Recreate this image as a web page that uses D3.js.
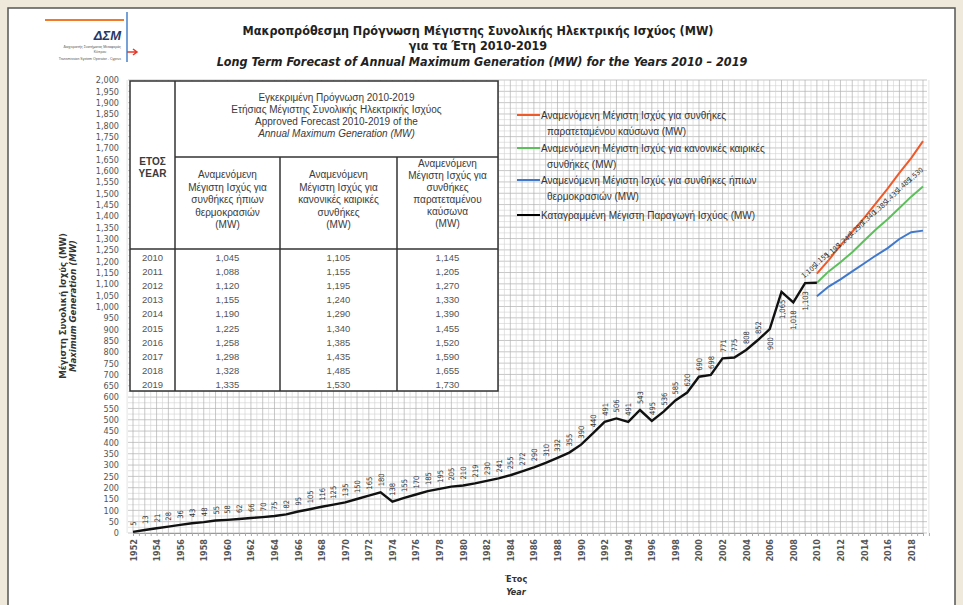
<!DOCTYPE html>
<html>
<head>
<meta charset="utf-8">
<script src="https://cdn.jsdelivr.net/npm/d3@7"></script>
<style>
  body { margin: 0; background: #efe9dc; }
  svg { display: block; }
</style>
</head>
<body>
<script>
// recorded annual maximum generation (MW), 1952 - 2009
const histStart = 1952;
const histValues = [5, 13, 21, 28, 36, 43, 48, 55, 58, 62,
  66, 70, 75, 82, 95, 105, 116, 125, 135, 150,
  165, 180, 138, 155, 170, 185, 195, 205, 210, 219,
  230, 241, 255, 272, 290, 310, 332, 355, 390, 440,
  491, 506, 491, 543, 495, 536, 585, 620, 690, 698,
  771, 775, 808, 852, 900, 1065, 1018, 1103];

// approved forecast 2010 - 2019
const forecastYears = [2010, 2011, 2012, 2013, 2014, 2015, 2016, 2017, 2018, 2019];
const mildValues = [1045, 1088, 1120, 1155, 1190, 1225, 1258, 1298, 1328, 1335];
const normalValues = [1105, 1155, 1195, 1240, 1290, 1340, 1385, 1435, 1485, 1530];
const heatValues = [1145, 1205, 1270, 1330, 1390, 1455, 1520, 1590, 1655, 1730];

const yTicks = d3.range(0, 2001, 50);
const xTickYears = d3.range(1952, 2019, 2);

const legendItems = [
  { color: "#ef5a2a", lines: ["Αναμενόμενη Μέγιστη Ισχύς για συνθήκες", "παρατεταμένου καύσωνα (MW)"] },
  { color: "#5cc05a", lines: ["Αναμενόμενη Μέγιστη Ισχύς για κανονικές καιρικές", "συνθήκες (MW)"] },
  { color: "#3f78cc", lines: ["Αναμενόμενη Μέγιστη Ισχύς για συνθήκες ήπιων", "θερμοκρασιών (MW)"] },
  { color: "#000000", lines: ["Καταγραμμένη Μέγιστη Παραγωγή Ισχύος (MW)"] }
];

const width = 963, height = 605;
const font = "'DejaVu Sans Condensed', 'Liberation Sans', sans-serif";
const bodyFont = "'Liberation Sans', Arial, sans-serif";
const fmt = d3.format(",");

const svg = d3.select("body").append("svg")
  .attr("width", width)
  .attr("height", height)
  .attr("font-family", bodyFont);

// page frame
svg.append("rect")
  .attr("x", 8).attr("y", 8)
  .attr("width", 947).attr("height", 610)
  .attr("fill", "#fff")
  .attr("stroke", "#555")
  .attr("stroke-width", 1.5);

const x = d3.scaleLinear().domain([1952, 2019]).range([133, 923]);
const y = d3.scaleLinear().domain([0, 2000]).range([533, 80]);

const plotLeft = 128, plotRight = 927;

// grid
const grid = svg.append("g");
grid.selectAll("line.hmin")
  .data(d3.range(25, 2000, 50))
  .join("line")
  .attr("x1", plotLeft).attr("x2", plotRight)
  .attr("y1", d => y(d)).attr("y2", d => y(d))
  .attr("stroke", "#d2d2d2").attr("stroke-width", 0.6);
grid.selectAll("line.hmaj")
  .data(yTicks)
  .join("line")
  .attr("x1", plotLeft).attr("x2", plotRight)
  .attr("y1", d => y(d)).attr("y2", d => y(d))
  .attr("stroke", "#b0b0b0").attr("stroke-width", 0.7);
grid.selectAll("line.vmin")
  .data(d3.range(1951.5, 2019.6, 1))
  .join("line")
  .attr("x1", d => x(d)).attr("x2", d => x(d))
  .attr("y1", y(2000)).attr("y2", y(0))
  .attr("stroke", "#d2d2d2").attr("stroke-width", 0.6);
grid.selectAll("line.vmaj")
  .data(d3.range(1952, 2020, 1))
  .join("line")
  .attr("x1", d => x(d)).attr("x2", d => x(d))
  .attr("y1", y(2000)).attr("y2", y(0))
  .attr("stroke", "#b0b0b0").attr("stroke-width", 0.7);

// y axis
const yAxis = d3.axisLeft(y).tickValues(yTicks).tickSize(0).tickPadding(9).tickFormat(fmt);
svg.append("g")
  .attr("transform", `translate(${plotLeft},0)`)
  .call(yAxis)
  .call(g => g.select(".domain").remove())
  .call(g => g.selectAll("text")
    .attr("font-family", font).attr("font-size", 9).attr("fill", "#555"));

// x axis
const xAxis = d3.axisBottom(x).tickValues(d3.range(1952, 2020, 0.5)).tickSize(3).tickFormat("");
svg.append("g")
  .attr("transform", `translate(0,${y(0)})`)
  .call(xAxis)
  .call(g => g.select(".domain").attr("stroke", "#999"))
  .call(g => g.selectAll(".tick line").attr("stroke", "#aaa"));

svg.append("g").selectAll("text")
  .data(xTickYears)
  .join("text")
  .attr("transform", d => `translate(${x(d) + 3.5},539) rotate(-90)`)
  .attr("text-anchor", "end")
  .attr("font-family", font)
  .attr("font-size", 9)
  .attr("font-weight", "bold")
  .attr("fill", "#555")
  .text(d => d);

// axis titles
const yTitle = svg.append("g").attr("transform", "translate(66,306) rotate(-90)");
yTitle.append("text")
  .attr("text-anchor", "middle").attr("y", 0)
  .attr("font-family", font)
  .attr("font-size", 9.5).attr("font-weight", "bold").attr("fill", "#333")
  .text("Μέγιστη Συνολική Ισχύς (MW)");
yTitle.append("text")
  .attr("text-anchor", "middle").attr("y", 10)
  .attr("font-family", font)
  .attr("font-size", 9.5).attr("font-weight", "bold").attr("font-style", "italic").attr("fill", "#333")
  .text("Maximum Generation (MW)");

svg.append("text")
  .attr("x", 516).attr("y", 582)
  .attr("text-anchor", "middle")
  .attr("font-family", font)
  .attr("font-size", 9).attr("font-weight", "bold").attr("fill", "#333")
  .text("Έτος");
svg.append("text")
  .attr("x", 516).attr("y", 595)
  .attr("text-anchor", "middle")
  .attr("font-family", font)
  .attr("font-size", 9).attr("font-weight", "bold").attr("font-style", "italic").attr("fill", "#333")
  .text("Year");

// lines
const hist = histValues.map((v, i) => ({ year: histStart + i, value: v }));
const histLine = hist.concat([{ year: forecastYears[0], value: normalValues[0] }]);
const toPoints = vals => vals.map((v, i) => ({ year: forecastYears[i], value: v }));

const line = d3.line().x(d => x(d.year)).y(d => y(d.value));

svg.append("path")
  .datum(toPoints(heatValues))
  .attr("d", line)
  .attr("fill", "none").attr("stroke", legendItems[0].color).attr("stroke-width", 2);
svg.append("path")
  .datum(toPoints(normalValues))
  .attr("d", line)
  .attr("fill", "none").attr("stroke", legendItems[1].color).attr("stroke-width", 2);
svg.append("path")
  .datum(toPoints(mildValues))
  .attr("d", line)
  .attr("fill", "none").attr("stroke", legendItems[2].color).attr("stroke-width", 2);
svg.append("path")
  .datum(histLine)
  .attr("d", line)
  .attr("fill", "none").attr("stroke", "#111").attr("stroke-width", 2.4);

// value labels on recorded line
svg.append("g").selectAll("text")
  .data(hist)
  .join("text")
  .attr("transform", d => d.year >= 2006
    ? `translate(${x(d.year) + 3},${y(d.value) + 8}) rotate(-90)`
    : `translate(${x(d.year) + 3},${y(d.value) - 6}) rotate(-90)`)
  .attr("text-anchor", d => d.year >= 2006 ? "end" : "start")
  .attr("font-family", font)
  .attr("font-size", 7.5)
  .attr("fill", "#333")
  .text(d => fmt(d.value));

// value labels on normal forecast
svg.append("g").selectAll("text")
  .data(toPoints(normalValues))
  .join("text")
  .attr("transform", d => `translate(${x(d.year) - 6},${y(d.value) - 10}) rotate(-40)`)
  .attr("text-anchor", "middle")
  .attr("font-family", font)
  .attr("font-size", 7)
  .attr("fill", "#333")
  .text(d => fmt(d.value));

// forecast table
const table = svg.append("g");
const tL = 130, tR = 498, tT = 81, tB = 391;
const c1 = 175, c2 = 280, c3 = 397, hMid = 157, hB = 249;
table.append("rect")
  .attr("x", tL).attr("y", tT).attr("width", tR - tL).attr("height", tB - tT)
  .attr("fill", "#fff").attr("stroke", "#333").attr("stroke-width", 1.5);
[[c1, tT, c1, tB], [c2, hMid, c2, tB], [c3, hMid, c3, tB], [c1, hMid, tR, hMid], [tL, hB, tR, hB]]
  .forEach(([x1, y1, x2, y2]) => {
    table.append("line")
      .attr("x1", x1).attr("y1", y1).attr("x2", x2).attr("y2", y2)
      .attr("stroke", "#333").attr("stroke-width", 1.5);
  });

function block(cx, y0, step, lines, italicIdx, bold) {
  lines.forEach((t, i) => {
    table.append("text")
      .attr("x", cx).attr("y", y0 + i * step)
      .attr("text-anchor", "middle")
      .attr("font-size", 10)
      .attr("font-weight", bold ? "bold" : null)
      .attr("font-style", italicIdx === i ? "italic" : null)
      .attr("fill", "#3a3a3a")
      .text(t);
  });
}
block((tL + c1) / 2, 165, 12, ["ΕΤΟΣ", "YEAR"], -1, true);
block((c1 + tR) / 2, 101, 12, [
  "Εγκεκριμένη Πρόγνωση 2010-2019",
  "Ετήσιας Μέγιστης Συνολικής Ηλεκτρικής Ισχύος",
  "Approved Forecast 2010-2019 of the",
  "Annual Maximum Generation (MW)"], 3);
block((c1 + c2) / 2, 178, 12.5, ["Αναμενόμενη", "Μέγιστη Ισχύς για", "συνθήκες ήπιων", "θερμοκρασιών", "(MW)"]);
block((c2 + c3) / 2, 178, 12.5, ["Αναμενόμενη", "Μέγιστη Ισχύς για", "κανονικές  καιρικές", "συνθήκες", "(MW)"]);
block((c3 + tR) / 2, 167, 12, ["Αναμενόμενη", "Μέγιστη Ισχύς για", "συνθήκες", "παρατεταμένου", "καύσωνα", "(MW)"]);

const rowY = d3.scaleLinear().domain([2010, 2019]).range([261, 388]);
const cols = [[(tL + c1) / 2, d => d], [(c1 + c2) / 2, (d, i) => fmt(mildValues[i])],
  [(c2 + c3) / 2, (d, i) => fmt(normalValues[i])], [(c3 + tR) / 2, (d, i) => fmt(heatValues[i])]];
cols.forEach(([cx, f]) => {
  table.append("g").selectAll("text")
    .data(forecastYears)
    .join("text")
    .attr("x", cx).attr("y", d => rowY(d))
    .attr("text-anchor", "middle")
    .attr("font-size", 9.5)
    .attr("fill", "#555")
    .text(f);
});

// legend
const legend = svg.append("g");
const legendY = [115, 148, 180, 215];
legendItems.forEach((item, i) => {
  const ly = legendY[i];
  legend.append("line")
    .attr("x1", 517).attr("x2", 540).attr("y1", ly).attr("y2", ly)
    .attr("stroke", item.color).attr("stroke-width", 2);
  item.lines.forEach((t, j) => {
    legend.append("text")
      .attr("x", j === 0 ? 541 : 547).attr("y", ly + 3.5 + j * 16)
      .attr("font-size", 10).attr("fill", "#333")
      .text(t);
  });
});

// titles
svg.append("text")
  .attr("x", 478).attr("y", 35).attr("text-anchor", "middle")
  .attr("font-family", font)
  .attr("font-size", 12.5).attr("font-weight", "bold").attr("fill", "#222")
  .text("Μακροπρόθεσμη Πρόγνωση Μέγιστης Συνολικής  Ηλεκτρικής Ισχύος (MW)");
svg.append("text")
  .attr("x", 478).attr("y", 50).attr("text-anchor", "middle")
  .attr("font-family", font)
  .attr("font-size", 12.5).attr("font-weight", "bold").attr("fill", "#222")
  .text("για τα Έτη 2010-2019");
svg.append("text")
  .attr("x", 482).attr("y", 66).attr("text-anchor", "middle")
  .attr("font-family", font)
  .attr("font-size", 12.5).attr("font-weight", "bold").attr("font-style", "italic").attr("fill", "#222")
  .text("Long Term Forecast of Annual Maximum Generation (MW) for the Years 2010 – 2019");

// logo
const logo = svg.append("g");
logo.append("line").attr("x1", 45).attr("x2", 124).attr("y1", 20).attr("y2", 20)
  .attr("stroke", "#f07a2a").attr("stroke-width", 2);
logo.append("line").attr("x1", 127).attr("x2", 127).attr("y1", 12).attr("y2", 62)
  .attr("stroke", "#4a80c8").attr("stroke-width", 1.5);
logo.append("path").attr("d", "M127,52 L136,52 M133,49 L137,52 L133,55")
  .attr("fill", "none").attr("stroke", "#e83a2a").attr("stroke-width", 1.5);
logo.append("text").attr("x", 121).attr("y", 40).attr("text-anchor", "end")
  .attr("font-size", 13).attr("font-weight", "bold").attr("font-style", "italic").attr("fill", "#1f3a6b")
  .text("ΔΣΜ");
logo.append("text").attr("x", 121).attr("y", 48).attr("text-anchor", "end")
  .attr("font-size", 3.5).attr("fill", "#555")
  .text("Διαχειριστής Συστήματος Μεταφοράς");
logo.append("text").attr("x", 100).attr("y", 53).attr("text-anchor", "middle")
  .attr("font-size", 3.5).attr("fill", "#555")
  .text("Κύπρου");
logo.append("text").attr("x", 121).attr("y", 60).attr("text-anchor", "end")
  .attr("font-size", 3.5).attr("fill", "#555")
  .text("Transmission System Operator - Cyprus");
</script>
</body>
</html>
